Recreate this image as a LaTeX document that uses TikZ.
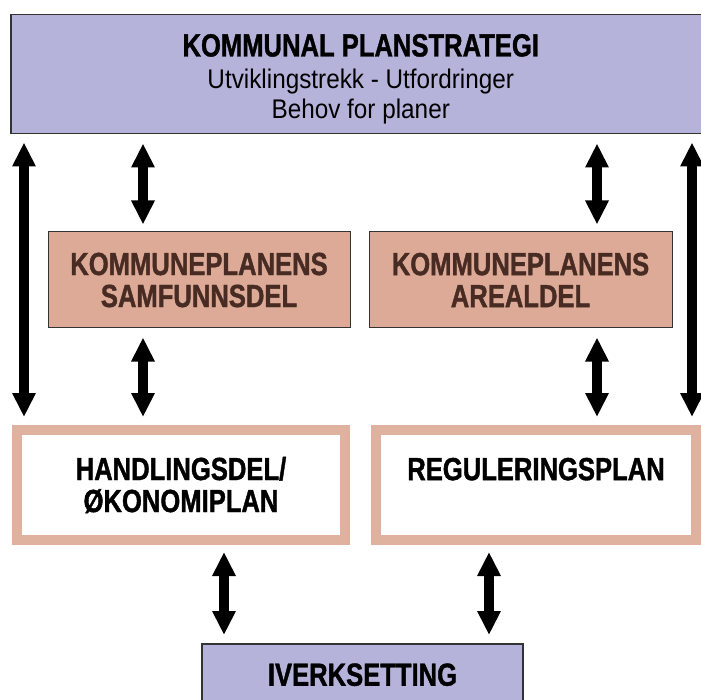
\documentclass[tikz,border=0pt]{standalone}
\usepackage{fontspec}
\setmainfont{Liberation Sans}
\newfontfamily\headfont[FakeStretch=0.8,FakeBold=1.2]{Liberation Sans}
\newfontfamily\subfont[FakeStretch=0.9]{Liberation Sans}
\usetikzlibrary{arrows.meta,positioning,calc}
\definecolor{lavender}{RGB}{182,179,219}
\definecolor{salmon}{RGB}{220,170,150}
\definecolor{salmonline}{RGB}{223,178,160}
\definecolor{darkbrown}{RGB}{72,44,36}
\tikzstyle{headtext} = [font=\headfont\bfseries\fontsize{32}{32}\selectfont]
\tikzset{twoway/.style = {
    line width=9.5pt,
    {Triangle[length=24pt,width=22pt]}-{Triangle[length=24pt,width=22pt]},
  }
}

\begin{document}
\begin{tikzpicture}[x=1pt, y=-1pt]
          \clip (0,0) rectangle (701,700);
          % vertices
          \tikzstyle{phase} = [rectangle, draw=black!80, line width=1.5pt, fill=lavender, align=center]
          \tikzstyle{part} = [rectangle, draw=black!80, line width=1pt, fill=salmon, text=darkbrown, minimum width=302pt, minimum height=96pt, align=center, headtext]
          \tikzstyle{plan} = [rectangle, draw=salmonline, line width=10pt, fill=white, minimum width=320pt, minimum height=110pt, align=center, headtext]

          \node[phase, anchor=north west, minimum width=700pt, minimum height=119pt, font=\subfont\fontsize{27}{30}\selectfont] (strategi) at (10,14)
            {{\headfont\bfseries\fontsize{32}{32}\selectfont\rule{0pt}{32pt}KOMMUNAL PLANSTRATEGI}\\[2pt]Utviklingstrekk - Utfordringer\\Behov for planer};

          \node[part] (samfunn) at (199,280) {KOMMUNEPLANENS\\SAMFUNNSDEL};
          \node[part, minimum width=303pt] (areal) at (520.5,280) {KOMMUNEPLANENS\\AREALDEL};

          \node[plan, minimum width=328pt] (handling) at (181,485) {HANDLINGSDEL/\\ØKONOMIPLAN};
          \node[plan] (regulering) at (536,485) {REGULERINGSPLAN\\\mbox{}};

          \node[phase, anchor=north, minimum width=321pt, text height=42pt, text depth=40pt, inner ysep=0pt, headtext] (iverk) at (362.5,643) {IVERKSETTING};

          % edges
          \coordinate (leftcol) at (24,0);
          \coordinate (rightcol) at (692,0);
          \draw[twoway, shorten <=8pt, shorten >=8pt] (strategi.south -| leftcol) -- (handling.north -| leftcol);
          \draw[twoway, shorten <=8pt, shorten >=8pt] (strategi.south -| rightcol) -- (regulering.north -| rightcol);

          \draw[twoway, shorten <=9pt, shorten >=7pt] ($ (strategi.south -| samfunn.north) + (-56,0) $) -- ($ (samfunn.north) + (-56,0) $);
          \draw[twoway, shorten <=9pt, shorten >=7pt] ($ (strategi.south -| areal.north) + (76.5,0) $) -- ($ (areal.north) + (76.5,0) $);
          \draw[twoway, shorten <=9pt, shorten >=8pt] ($ (samfunn.south) + (-56,0) $) -- ($ (handling.north -| samfunn.south) + (-56,0) $);
          \draw[twoway, shorten <=9pt, shorten >=8pt] ($ (areal.south) + (76.5,0) $) -- ($ (regulering.north -| areal.south) + (76.5,0) $);

          \draw[twoway, shorten <=7pt, shorten >=8pt] ($ (handling.south) + (43,0) $) -- ($ (iverk.north -| handling.south) + (43,0) $);
          \draw[twoway, shorten <=7pt, shorten >=8pt] ($ (regulering.south) + (-47,0) $) -- ($ (iverk.north -| regulering.south) + (-47,0) $);
\end{tikzpicture}
\end{document}
